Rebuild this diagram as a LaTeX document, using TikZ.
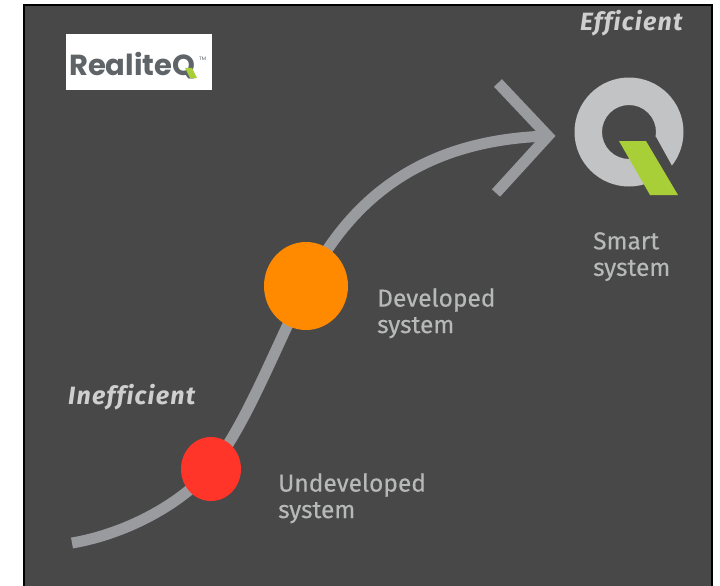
\documentclass[tikz,border=0pt]{standalone}
\usepackage{fontspec}
\setmainfont[Ligatures=NoCommon,FakeBold=0.25]{Fira Sans}
\newfontfamily\gradefont[Ligatures=NoCommon,LetterSpace=5]{Fira Sans}
\newfontfamily\logofont{Poppins}
\usepackage{tikz}
\usetikzlibrary{shapes.geometric}
\definecolor{panelgray}{HTML}{484848}
\definecolor{curvegray}{HTML}{9A9B9F}
\definecolor{ringgray}{HTML}{C2C3C5}
\definecolor{labelgray}{HTML}{B7B8B8}
\definecolor{titlegray}{HTML}{CFCFCF}
\definecolor{logogray}{HTML}{5F6468}
\definecolor{qgreen}{HTML}{A9CF38}
\definecolor{dotred}{HTML}{FF3529}
\definecolor{dotorange}{HTML}{FF8A00}
\tikzset{
	stage/.style={font=\fontsize{24.5}{26.5}\selectfont, text=labelgray, align=left, anchor=north west, inner sep=0pt},
	grade/.style={font=\gradefont\fontsize{25}{27}\selectfont\bfseries\itshape, text=titlegray, anchor=base west, inner sep=0pt},
	dot/.style={ellipse, inner sep=0pt},
	path line/.style={draw=curvegray, line width=11pt}
}

\begin{document}
\begin{tikzpicture}[x=1pt,y=-1pt]
	\useasboundingbox (0,0) rectangle (720,586);
	\fill[white] (0,0) rectangle (720,586);
	\draw[black, line width=2pt, fill=panelgray] (24,5) rectangle (712,590);
	%
	\coordinate (start) at (72,543);
	\coordinate (low) at (211,469);
	\coordinate (mid) at (306,286);
	\coordinate (tip) at (548,136);
	\coordinate (armup) at (498,83);
	\coordinate (armdown) at (496,193);
	\draw[path line] (start) .. controls (125,534) and (180,505) .. (low)
		.. controls (245,425) and (268,365) .. (mid)
		.. controls (350,200) and (420,140) .. (tip);
	\draw[path line, miter limit=4] (armup) -- (tip) -- (armdown);
	%
	\node [dot, fill=dotred, minimum width=60pt, minimum height=64pt] (reddot) at (low) {};
	\node [dot, fill=dotorange, minimum width=84pt, minimum height=88pt] (orangedot) at (mid) {};
	%
	\fill[ringgray, even odd rule] (629,132) circle [radius=54.5] (629,132) circle [radius=27];
	\fill[panelgray] (646,141) -- (656,137) -- (672,166) -- (692,200) -- (678,200) -- cycle;
	\fill[qgreen] (619,141) -- (646,141) -- (678,195) -- (650,195) -- cycle;
	%
	\node [fill=white, minimum width=146pt, minimum height=56pt, inner sep=0pt] (logo) at (139,62) {};
	\node [font=\logofont\bfseries\fontsize{29}{29}\selectfont, text=logogray, inner sep=0pt, anchor=base west] (logotext) at (69,75) {RealiteQ};
	\node [font=\logofont\fontsize{5}{5}\selectfont, text=logogray, inner sep=0pt, anchor=base west] (logotm) at (199,60) {TM};
	\fill[qgreen] (185,68) -- (192,68) -- (197,78) -- (190,78) -- cycle;
	%
	\node [grade] (efficient) at (580,31) {Efficient};
	\node [grade] (inefficient) at (68,404) {Inefficient};
	\node [stage] (smart) at (593,232) {Smart\\system};
	\node [stage] (developed) at (377,288) {Developed\\system};
	\node [stage] (undeveloped) at (278,473) {Undeveloped\\system};
\end{tikzpicture}
\end{document}
